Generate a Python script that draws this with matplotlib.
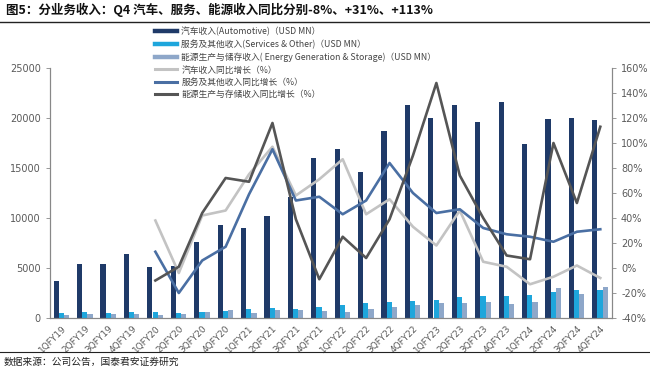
import matplotlib
matplotlib.use("Agg")
import matplotlib.pyplot as plt
import numpy as np
from matplotlib.lines import Line2D

plt.rcParams['font.family'] = ['Noto Sans CJK SC', 'DejaVu Sans']
plt.rcParams['axes.unicode_minus'] = False

quarters = ["1QFY19", "2QFY19", "3QFY19", "4QFY19", "1QFY20", "2QFY20", "3QFY20", "4QFY20",
            "1QFY21", "2QFY21", "3QFY21", "4QFY21", "1QFY22", "2QFY22", "3QFY22", "4QFY22",
            "1QFY23", "2QFY23", "3QFY23", "4QFY23", "1QFY24", "2QFY24", "3QFY24", "4QFY24"]

auto_rev = [3723, 5376, 5353, 6368, 5132, 5179, 7611, 9314,
            9002, 10206, 12057, 15967, 16861, 14602, 18692, 21307,
            19963, 21268, 19625, 21563, 17378, 19878, 20016, 19798]
serv_rev = [494, 606, 548, 580, 560, 487, 581, 678,
            893, 951, 894, 1064, 1279, 1466, 1645, 1701,
            1837, 2150, 2166, 2166, 2288, 2608, 2790, 2848]
energy_rev = [324, 368, 402, 436, 293, 370, 579, 752,
              494, 801, 806, 688, 616, 866, 1117, 1310,
              1529, 1509, 1559, 1438, 1635, 3014, 2376, 3061]

# YoY growth (%), starting 1QFY20
auto_yoy = [38, -4, 42, 46, 75, 97, 58, 71, 87, 43, 55, 33, 18, 46, 5, 1, -13, -7, 2, -8]
serv_yoy = [13, -20, 6, 17, 59, 95, 54, 57, 43, 54, 84, 60, 44, 47, 32, 27, 25, 21, 29, 31]
energy_yoy = [-10, 1, 44, 72, 69, 116, 39, -9, 25, 8, 39, 90, 148, 74, 40, 10, 7, 100, 52, 113]

labels = ["汽车收入(Automotive)（USD MN）",
          "服务及其他收入(Services & Other)（USD MN）",
          "能源生产与储存收入( Energy Generation & Storage)（USD MN）",
          "汽车收入同比增长（%）",
          "服务及其他收入同比增长（%）",
          "能源生产与存储收入同比增长（%）"]

c_auto = "#1f3a68"
c_serv = "#1ea6dc"
c_energy = "#8ea7c9"
c_auto_l = "#c3c3c3"
c_serv_l = "#4a6fa3"
c_energy_l = "#555555"
axis_c = "#888888"
txt_c = "#5a5a5a"

fig = plt.figure(figsize=(6.5, 3.7), dpi=100)
ax = fig.add_axes([50/650, 1-318/370, (612-50)/650, 250/370])
ax2 = ax.twinx()

x = np.arange(len(quarters))
w = 0.22
b1 = ax.bar(x - 0.235, auto_rev, width=w, color=c_auto, zorder=2)
b2 = ax.bar(x - 0.01, serv_rev, width=w, color=c_serv, zorder=2)
b3 = ax.bar(x + 0.21, energy_rev, width=w, color=c_energy, zorder=2)

xl = x[4:]
l1, = ax2.plot(xl, auto_yoy, color=c_auto_l, lw=1.9)
l2, = ax2.plot(xl, serv_yoy, color=c_serv_l, lw=1.9)
l3, = ax2.plot(xl, energy_yoy, color=c_energy_l, lw=1.9)

ax.set_xlim(-0.5, len(quarters) - 0.5)
ax.set_ylim(0, 25000)
ax.set_yticks(np.arange(0, 25001, 5000))
ax2.set_ylim(-40, 160)
ax2.set_yticks(np.arange(-40, 161, 20))
ax2.set_yticklabels([f"{v}%" for v in range(-40, 161, 20)])

ax.set_xticks(x)
ax.set_xticklabels(quarters, rotation=45, ha="right", rotation_mode="anchor",
                   fontsize=6.5, color=txt_c, family="DejaVu Sans")
for a in (ax, ax2):
    a.spines["top"].set_visible(False)
    for s in ("left", "right", "bottom"):
        a.spines[s].set_color(axis_c)
        a.spines[s].set_linewidth(0.8)
    a.tick_params(axis="y", labelsize=7, colors=txt_c, length=3, width=0.6)
    a.tick_params(axis="y", color=axis_c)
ax.tick_params(axis="x", length=0, pad=4)
for t in ax.get_yticklabels() + ax2.get_yticklabels():
    t.set_family("DejaVu Sans")

handles = [Line2D([], [], color=c_auto, lw=3.2),
           Line2D([], [], color=c_serv, lw=3.2),
           Line2D([], [], color=c_energy, lw=3.2),
           Line2D([], [], color=c_auto_l, lw=2.2),
           Line2D([], [], color=c_serv_l, lw=2.2),
           Line2D([], [], color=c_energy_l, lw=2.2)]
fig.legend(handles, labels, loc="upper left", bbox_to_anchor=(155/650, 1-27/370),
           frameon=False, fontsize=6.3, handlelength=2.5, handletextpad=0.5,
           labelspacing=0.38, borderaxespad=0, borderpad=0,
           labelcolor="#444444")

fig.text(6/650, 1-10/370, "图5：分业务收入：Q4 汽车、服务、能源收入同比分别-8%、+31%、+113%",
         fontsize=9, fontweight="bold", va="center", ha="left", color="#111111")
fig.add_artist(Line2D([0.0, 1.0], [1-22/370, 1-22/370], color="#222222", lw=1.0))
fig.add_artist(Line2D([0.0, 1.0], [1-352/370, 1-352/370], color="#222222", lw=0.8))
fig.text(4/650, 1-362/370, "数据来源：公司公告，国泰君安证券研究",
         fontsize=7, va="center", ha="left", color="#222222")

fig.savefig("out.png", dpi=100)
